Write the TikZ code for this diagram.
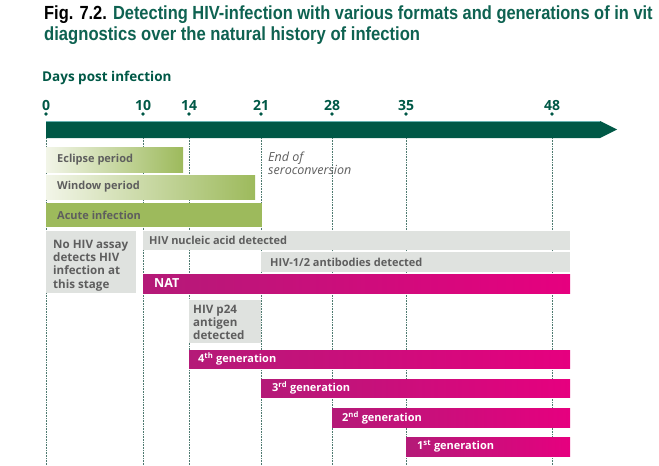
\documentclass[tikz,border=0pt]{standalone}
\usepackage{fontspec}
\setmainfont{Open Sans}
\newfontfamily\titlefont{Liberation Sans}
\usepackage{graphicx}
\definecolor{axisgreen}{HTML}{005846}
\definecolor{titlegreen}{HTML}{0E6251}
\definecolor{olive}{HTML}{9DBA5C}
\definecolor{olivelight}{HTML}{F2F5E8}
\definecolor{boxgray}{HTML}{DFE2DF}
\definecolor{txtgray}{HTML}{5E5E5E}
\definecolor{magdark}{HTML}{B41A78}
\definecolor{magbright}{HTML}{E6007F}
\definecolor{dotline}{HTML}{4E7A70}
\tikzset{
  ticklab/.style={anchor=base, inner sep=0, font=\bfseries\fontsize{14}{14}\selectfont, text=axisgreen},
  graytxt/.style={anchor=west, inner sep=0, font=\bfseries\fontsize{11}{13.7}\selectfont, text=txtgray, align=left},
  boxtxt/.style={anchor=base west, inner sep=0, font=\bfseries\fontsize{11.6}{13.3}\selectfont, text=txtgray, align=left},
  whitetxt/.style={anchor=west, inner sep=0, font=\bfseries\fontsize{11}{13}\selectfont, text=white},
  greenbar/.style={left color=olivelight, right color=olive},
  magbar/.style={left color=magdark, right color=magbright},
  graybar/.style={fill=boxgray},
  vdots/.style={dotline, densely dotted, line width=0.6pt},
}
\begin{document}
\begin{tikzpicture}[x=1pt,y=-1pt]
\useasboundingbox (0,0) rectangle (659,466);
\clip (0,0) rectangle (659,466);
% title
\node[anchor=base west, inner sep=0] (title1) at (44,19)
  {\titlefont\bfseries\fontsize{19}{19}\selectfont\scalebox{0.865}[1]{Fig. 7.2. \textcolor{titlegreen}{Detecting HIV-infection with various formats and generations of in vit}}};
\node[anchor=base west, inner sep=0, text=titlegreen] (title2) at (44,40)
  {\titlefont\bfseries\fontsize{19}{19}\selectfont\scalebox{0.875}[1]{diagnostics over the natural history of infection}};
\node[anchor=base west, inner sep=0, text=axisgreen, font=\bfseries\fontsize{13.5}{14}\selectfont] (days) at (42,81.5) {Days post infection};
% tick coordinates
\coordinate (t0) at (46,114);
\coordinate (t10) at (143,114);
\coordinate (t14) at (189,114);
\coordinate (t21) at (261,114);
\coordinate (t28) at (332,114);
\coordinate (t35) at (406,114);
\coordinate (t48) at (552,114);
% dotted verticals
\foreach \t in {t0,t10,t14,t21,t28,t35,t48}{
  \draw[vdots] (\t) ++(0,24) -- ++(0,330);
  \fill[axisgreen] (\t) circle (1.8);
}
% tick labels
\node[ticklab] (l0) at (46,110) {0};
\node[ticklab] (l10) at (143,110) {10};
\node[ticklab] (l14) at (189,110) {14};
\node[ticklab] (l21) at (261,110) {21};
\node[ticklab] (l28) at (332,110) {28};
\node[ticklab] (l35) at (406,110) {35};
\node[ticklab] (l48) at (552,110) {48};
% axis arrow
\fill[axisgreen] (46,121) -- (600,121) -- (617,129.5) -- (600,138) -- (46,138) -- cycle;
\draw[teal!60!white, line width=0.6pt] (46,121.3) -- (600,121.3);
% green bars
\shade[greenbar] (46,147) rectangle (183,172);
\node[graytxt] (eclipse) at (57,159.5) {Eclipse period};
\shade[greenbar] (46,175) rectangle (255,199);
\node[graytxt] (window) at (57,187) {Window period};
\fill[olive] (46,203) rectangle (262,227);
\node[graytxt] (acute) at (57,215) {Acute infection};
\node[anchor=base west, inner sep=0, font=\itshape\fontsize{12.5}{12.5}\selectfont, text=txtgray, align=left] (endof) at (268,174) {End of\\seroconversion};
% gray boxes
\fill[boxgray] (46,231) rectangle (136,293);
\node[boxtxt] (noassay) at (53,288) {No HIV assay\\detects HIV\\infection at\\this stage};
\fill[boxgray] (143,231) rectangle (570,250);
\node[graytxt] (nucleic) at (149,240.5) {HIV nucleic acid detected};
\fill[boxgray] (261,252) rectangle (570,272);
\node[graytxt] (antib) at (270,262) {HIV-1/2 antibodies detected};
\shade[magbar] (143,274) rectangle (570,293);
\node[whitetxt, font=\bfseries\fontsize{12.5}{13}\selectfont] (nat) at (154,283.5) {NAT};
\fill[boxgray] (189,300) rectangle (261,343);
\node[boxtxt, font=\bfseries\fontsize{11.6}{13}\selectfont] (p24) at (193,339) {HIV p24\\antigen\\detected};
% generations
\shade[magbar] (189,350) rectangle (570,368);
\node[whitetxt] (g4) at (198,359) {4\textsuperscript{th} generation};
\shade[magbar] (261,379) rectangle (570,397);
\node[whitetxt] (g3) at (272,388) {3\textsuperscript{rd} generation};
\shade[magbar] (332,408) rectangle (570,427);
\node[whitetxt] (g2) at (342,417.5) {2\textsuperscript{nd} generation};
\shade[magbar] (406,437) rectangle (570,456);
\node[whitetxt] (g1) at (417,446.5) {1\textsuperscript{st} generation};
\end{tikzpicture}
\end{document}
